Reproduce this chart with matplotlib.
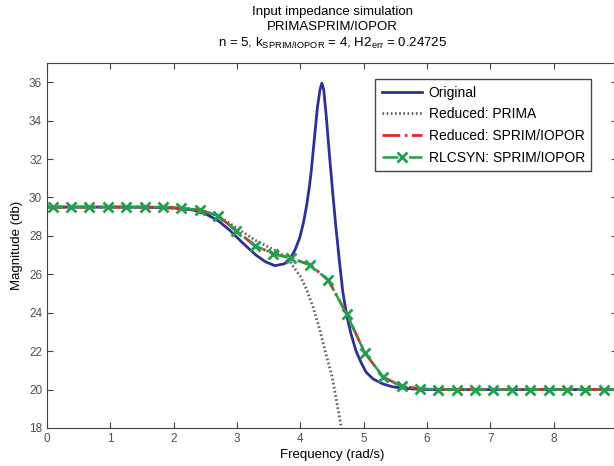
import matplotlib
matplotlib.use("Agg")
import matplotlib.pyplot as plt

plt.rcParams['font.family'] = ['Liberation Sans', 'DejaVu Sans']
plt.rcParams['mathtext.fontset'] = 'custom'
plt.rcParams['mathtext.rm'] = 'Liberation Sans'
plt.rcParams['mathtext.it'] = 'Liberation Sans'

# original response
w_orig = [0, 0.5, 1.0, 1.5, 2.0, 2.3, 2.5, 2.7, 2.9, 3.1, 3.3, 3.45, 3.6, 3.75,
          3.85, 3.92, 3.99, 4.05, 4.1, 4.14, 4.17, 4.22, 4.27, 4.31, 4.34, 4.37,
          4.41, 4.46, 4.51, 4.56, 4.62, 4.67, 4.73, 4.8, 4.88, 4.96, 5.04, 5.15,
          5.3, 5.45, 5.6, 5.8, 6.0, 7.0, 8.0, 9.0]
mag_orig = [29.5, 29.5, 29.5, 29.5, 29.45, 29.35, 29.15, 28.8, 28.25, 27.6, 27.0,
            26.65, 26.45, 26.55, 26.87, 27.3, 27.9, 28.7, 29.6, 30.5, 31.3, 33.0,
            34.7, 35.6, 35.95, 35.6, 34.2, 32.2, 30.3, 28.5, 26.6, 25.1, 23.9,
            22.9, 22.0, 21.4, 20.9, 20.55, 20.3, 20.15, 20.08, 20.03, 20.0, 20.0,
            20.0, 20.0]

# PRIMA reduced model
w_prima = [0, 1.0, 2.0, 2.4, 2.7, 3.0, 3.3, 3.6, 3.8, 3.9, 4.0, 4.1, 4.2, 4.3,
           4.4, 4.5, 4.6, 4.66]
mag_prima = [29.5, 29.5, 29.45, 29.35, 29.05, 28.4, 27.75, 27.25, 26.85, 26.35,
             25.9, 25.2, 24.3, 23.2, 21.9, 20.7, 18.9, 17.8]

# SPRIM/IOPOR reduced model and RLCSYN synthesis (markers at inner points)
w_sprim = [0, 0.09, 0.38, 0.67, 0.96, 1.25, 1.54, 1.83, 2.12, 2.41, 2.70, 2.99,
           3.28, 3.57, 3.86, 4.15, 4.44, 4.73, 5.02, 5.31, 5.60, 5.89, 6.18,
           6.47, 6.76, 7.05, 7.34, 7.63, 7.92, 8.21, 8.50, 8.79, 9.0]
mag_sprim = [29.5, 29.5, 29.5, 29.5, 29.5, 29.5, 29.5, 29.5, 29.45, 29.35, 29.05,
             28.27, 27.5, 27.08, 26.83, 26.5, 25.7, 23.95, 21.9, 20.65, 20.17,
             20.05, 20.0, 20.0, 20.0, 20.0, 20.0, 20.0, 20.0, 20.0, 20.0, 20.0, 20.0]
mag_rlcsyn = mag_sprim

fig = plt.figure(figsize=(6.14, 4.66), dpi=100)
ax = fig.add_axes([47/614, 38/466, 570/614, 365/466])

ax.plot(w_orig, mag_orig, color='#2f2f98', lw=2, label='Original')
ax.plot(w_prima, mag_prima, color='#606060', lw=2, ls=(0, (0.6, 0.9)),
        label='Reduced: PRIMA')
ax.plot(w_sprim, mag_sprim, color='#e02828', lw=2, ls='-.',
        label='Reduced: SPRIM/IOPOR')
ax.plot(w_sprim, mag_rlcsyn, color='#22a050', lw=1.8, ls='-.', marker='x',
        ms=6.5, mew=2, markevery=slice(1, -1), label='RLCSYN: SPRIM/IOPOR')

ax.set_xlim(0, 9)
ax.set_ylim(18, 37)
ax.set_xticks(range(0, 9))
ax.set_yticks(range(18, 37, 2))
ax.tick_params(direction='in', top=True, right=True, length=4,
               labelsize=8.5, labelcolor='#505050', color='#444444')
for s in ax.spines.values():
    s.set_color('#444444')
ax.set_xlabel('Frequency (rad/s)', fontsize=9.5, labelpad=3)
ax.set_ylabel('Magnitude (db)', fontsize=9.5, labelpad=4)

leg = ax.legend(loc='upper right', bbox_to_anchor=(0.955, 0.955), fontsize=10,
                handlelength=2.9, handletextpad=0.5, labelspacing=0.55,
                borderaxespad=0, borderpad=0.45, fancybox=False, framealpha=1,
                edgecolor='#444444')
leg.get_frame().set_linewidth(1.0)

cx = 332/614
fig.text(cx, 1 - 12/466, 'Input impedance simulation', ha='center', va='center', fontsize=9.5)
fig.text(cx, 1 - 27/466, 'PRIMASPRIM/IOPOR', ha='center', va='center', fontsize=9.5)
fig.text(cx, 1 - 43/466, r'n = 5, k$_{\mathrm{SPRIM/IOPOR}}$ = 4, H2$_{\mathrm{err}}$ = 0.24725',
         ha='center', va='center', fontsize=9.5)

fig.savefig('out.png', dpi=100)
